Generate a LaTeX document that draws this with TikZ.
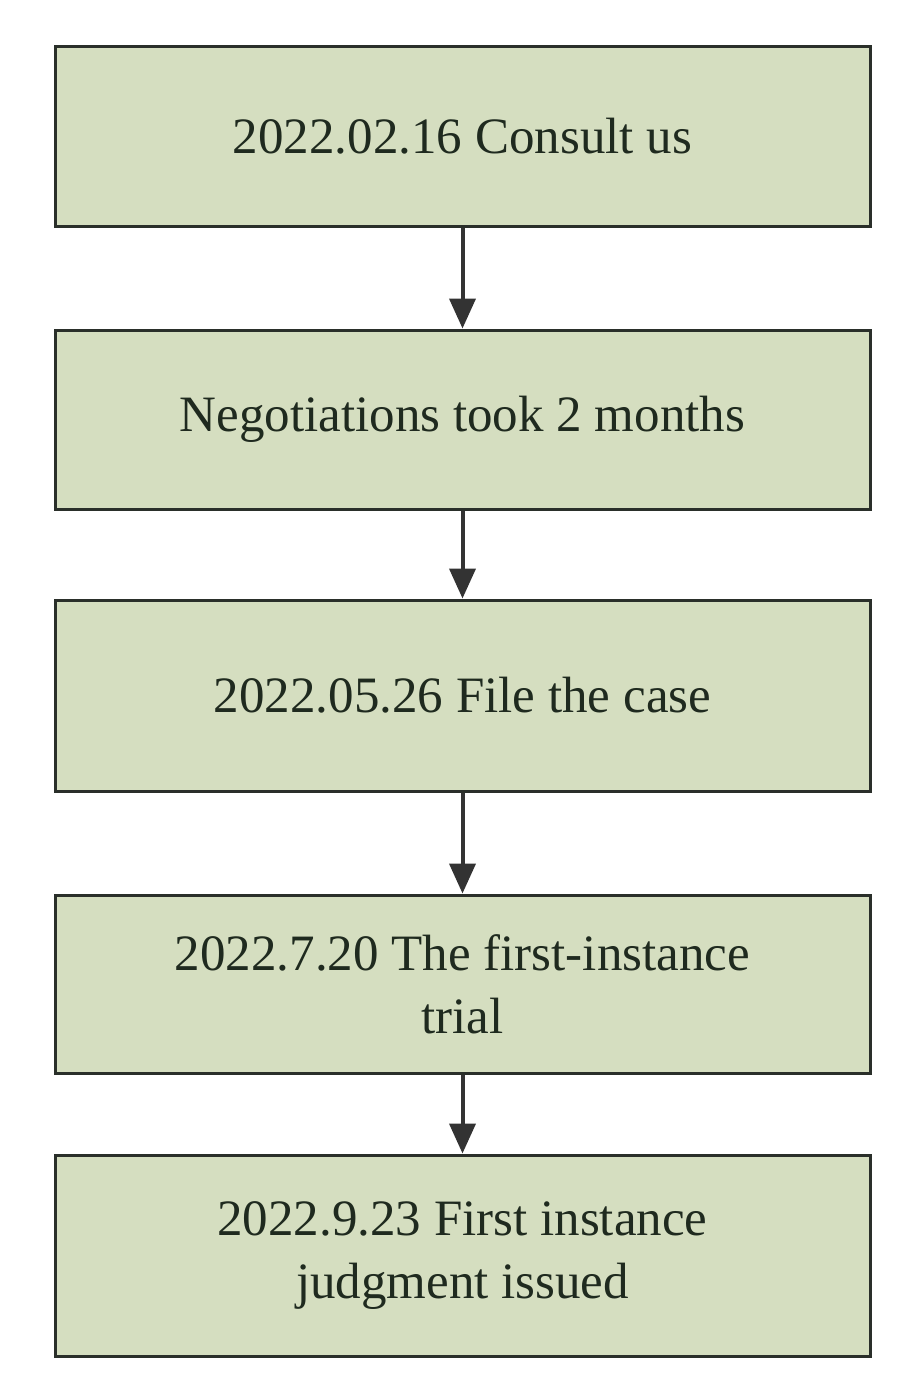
\documentclass[tikz,border=0pt]{standalone}
\usepackage{fontspec}
\setmainfont{Liberation Serif}
\usetikzlibrary{arrows.meta}
\definecolor{boxfill}{HTML}{D5DEC0}
\definecolor{boxline}{HTML}{2A2F2A}
\definecolor{txt}{HTML}{1F2A1F}
\definecolor{arr}{HTML}{333333}
\begin{document}
\begin{tikzpicture}[x=1pt,y=-1pt,
  box/.style={draw=boxline,line width=3pt,fill=boxfill,minimum width=815pt,align=center,text=txt,
    font=\fontsize{51}{63}\selectfont,inner sep=0pt},
  conn/.style={draw=arr,line width=4pt,-{Triangle[length=30pt,width=26pt]}}]
\useasboundingbox (0,0) rectangle (900,1394);
\node[box,minimum height=179pt] (a) at (462.5,136.5) {2022.02.16 Consult us};
\node[box,minimum height=179pt] (b) at (462.5,419.5) {Negotiations took 2 months};
\node[box,minimum height=191pt] (c) at (462.5,695.5) {2022.05.26 File the case};
\node[box,minimum height=178pt] (d) at (462.5,984) {2022.7.20 The first-instance\\trial};
\node[box,minimum height=201pt] (e) at (462.5,1255.5) {2022.9.23 First instance\\judgment issued};
\draw[conn] (a) -- (b);
\draw[conn] (b) -- (c);
\draw[conn] (c) -- (d);
\draw[conn] (d) -- (e);
\end{tikzpicture}
\end{document}
